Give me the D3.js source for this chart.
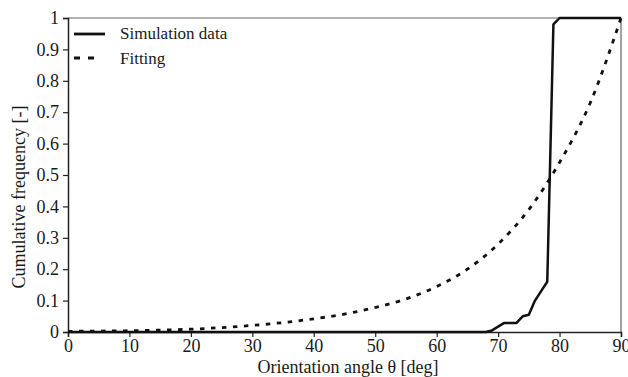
<!DOCTYPE html>
<html>
<head>
<meta charset="utf-8">
<script src="https://cdn.jsdelivr.net/npm/d3@7"></script>
<style>
  body { margin: 0; background: #fff; }
</style>
</head>
<body>
<div class="chart"></div>
<script>
// simulation data (step-like cumulative frequency)
const simAngle = [0, 68, 69, 71, 73, 74, 75, 76, 77, 78, 79, 80, 90];
const simValue = [0, 0, 0.005, 0.029, 0.029, 0.05, 0.055, 0.1, 0.13, 0.16, 0.98, 1, 1];

// fitted curve
const fitAngle = [0, 5, 10, 15, 20, 25, 30, 35, 40, 45, 50, 55, 60, 65, 70, 75, 80, 85, 90];
const fitValue = [0.002, 0.003, 0.004, 0.006, 0.009, 0.014, 0.021, 0.03, 0.042, 0.057, 0.078, 0.105, 0.145, 0.2, 0.28, 0.39, 0.54, 0.73, 1.0];

const xTicks = [0, 10, 20, 30, 40, 50, 60, 70, 80, 90];
const yTicks = [0, 0.1, 0.2, 0.3, 0.4, 0.5, 0.6, 0.7, 0.8, 0.9, 1];

const width = 628, height = 377;
const margin = { top: 18, right: 7, bottom: 45, left: 68 };
const serif = "'Liberation Serif', 'Times New Roman', Tinos, 'DejaVu Serif', serif";

const svg = d3.select(".chart").append("svg")
    .attr("width", width)
    .attr("height", height);

const x = d3.scaleLinear().domain([0, 90]).range([margin.left, width - margin.right]);
const y = d3.scaleLinear().domain([0, 1]).range([height - margin.bottom, margin.top]);

// frame (top/right)
svg.append("path")
    .attr("d", `M${x(0)},${y(1)}H${x(90)}V${y(0)}`)
    .attr("fill", "none")
    .attr("stroke", "#666")
    .attr("stroke-width", 1.2);

const xAxis = svg.append("g")
    .attr("transform", `translate(0, ${y(0)})`)
    .call(d3.axisBottom(x).tickValues(xTicks).tickSize(5).tickPadding(2).tickFormat(d3.format("d")));
const yAxis = svg.append("g")
    .attr("transform", `translate(${x(0)}, 0)`)
    .call(d3.axisLeft(y).tickValues(yTicks).tickSize(5).tickPadding(4).tickFormat(d => d === 0 || d === 1 ? d : d3.format(".1f")(d)));

[xAxis, yAxis].forEach(g => {
    g.selectAll("path.domain").attr("stroke", "#222").attr("stroke-width", 1.5);
    g.selectAll("line").attr("stroke", "#222").attr("stroke-width", 1.2);
    g.selectAll("text").style("font-size", "18px").style("fill", "#1a1a1a")
        .style("font-family", serif);
});

const line = d3.line().x(d => x(d[0])).y(d => y(d[1]));

svg.append("path")
    .datum(fitAngle.map((a, i) => [a, fitValue[i]]))
    .attr("d", line.curve(d3.curveMonotoneX))
    .attr("fill", "none")
    .attr("stroke", "#111")
    .attr("stroke-width", 2.8)
    .attr("stroke-dasharray", "4.5,6.5");

svg.append("path")
    .datum(simAngle.map((a, i) => [a, simValue[i]]))
    .attr("d", d3.line().x(d => x(d[0])).y(d => y(d[1])))
    .attr("fill", "none")
    .attr("stroke", "#111")
    .attr("stroke-width", 2.5)
    .attr("stroke-linejoin", "round");

// legend
const legend = svg.append("g");
legend.append("line")
    .attr("x1", 74).attr("x2", 105).attr("y1", 34).attr("y2", 34)
    .attr("stroke", "#111").attr("stroke-width", 2.8);
legend.append("line")
    .attr("x1", 74).attr("x2", 97).attr("y1", 58).attr("y2", 58)
    .attr("stroke", "#111").attr("stroke-width", 2.8)
    .attr("stroke-dasharray", "6,8");
legend.append("text").attr("x", 120).attr("y", 39).text("Simulation data");
legend.append("text").attr("x", 120).attr("y", 64).text("Fitting");
legend.selectAll("text").style("font-size", "17px").style("font-family", serif).style("fill", "#1a1a1a");

// axis titles
svg.append("text")
    .attr("x", 348).attr("y", 373)
    .attr("text-anchor", "middle")
    .style("font-size", "18px").style("font-family", serif).style("fill", "#1a1a1a")
    .text("Orientation angle θ [deg]");
svg.append("text")
    .attr("transform", "translate(25, 197) rotate(-90)")
    .attr("text-anchor", "middle")
    .style("font-size", "18px").style("font-family", serif).style("fill", "#1a1a1a")
    .text("Cumulative frequency [-]");
</script>
</body>
</html>
